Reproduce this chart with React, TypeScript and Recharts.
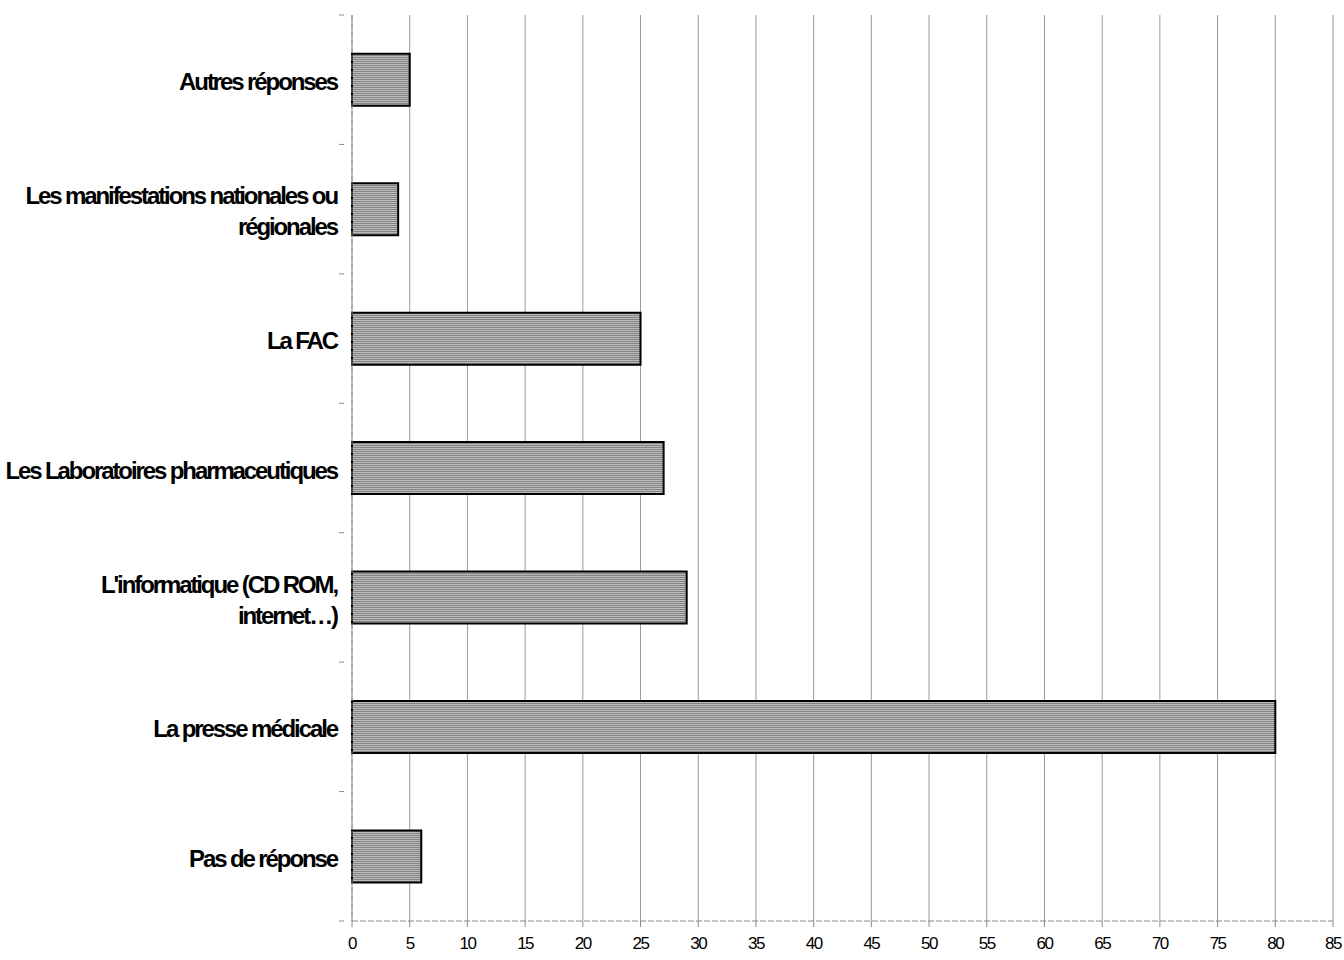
import { BarChart, Bar, XAxis, YAxis, CartesianGrid } from 'recharts';

// ── Data ──────────────────────────────────────────────────────────────────────
const CATEGORIES = [
  'Autres réponses',
  'Les manifestations nationales ou\nrégionales',
  'La FAC',
  'Les Laboratoires pharmaceutiques',
  "L'informatique (CD ROM,\ninternet…)",
  'La presse médicale',
  'Pas de réponse',
];
const VALUES = [5, 4, 25, 27, 29, 80, 6];
const X_TICKS = [0, 5, 10, 15, 20, 25, 30, 35, 40, 45, 50, 55, 60, 65, 70, 75, 80, 85];

const data = CATEGORIES.map((name, i) => ({ name, value: VALUES[i] }));

const LABEL_FONT = '"Liberation Sans", Arial, sans-serif';
const AXIS_GRAY = '#8a8a8a';

// ── Category label, right-aligned, wrapped on \n, with band-edge tick marks ──
function CategoryTick(props: any) {
  const { x, y, payload, index, visibleTicksCount } = props;
  const lines = String(payload.value).split('\n');
  const half = payload.offset ?? 0;
  const lh = 31;
  const start = -((lines.length - 1) * lh) / 2;
  const isLast = index === (visibleTicksCount ?? CATEGORIES.length) - 1;
  return (
    <g>
      <line x1={x - 5} x2={x} y1={y - half} y2={y - half} stroke={AXIS_GRAY} />
      {isLast && <line x1={x - 5} x2={x} y1={y + half} y2={y + half} stroke={AXIS_GRAY} />}
      <text
        x={x}
        y={y}
        textAnchor="end"
        fontFamily={LABEL_FONT}
        fontWeight={700}
        fontSize={24}
        letterSpacing={-2.1}
        fill="#000"
      >
        {lines.map((l, i) => (
          <tspan key={i} x={x - 7} y={y + start + i * lh + 2} dy="0.36em">
            {l}
          </tspan>
        ))}
      </text>
    </g>
  );
}

export default function App() {
  return (
    <div style={{ position: 'absolute', left: 0, top: 0, width: 1344, height: 960, background: '#fff' }}>
      <BarChart
        width={1344}
        height={960}
        data={data}
        layout="vertical"
        margin={{ top: 15, right: 11, bottom: 0, left: 0 }}
        barCategoryGap="30%"
      >
        <defs>
          <pattern id="hatch" width="4" height="2" patternUnits="userSpaceOnUse">
            <rect width="4" height="2" fill="#bcbcbc" />
            <rect y="1" width="4" height="1" fill="#848484" />
          </pattern>
        </defs>

        <CartesianGrid horizontal={false} stroke="#9a9a9a" strokeWidth={1} />

        <XAxis
          type="number"
          domain={[0, 85]}
          ticks={X_TICKS}
          interval={0}
          height={39}
          stroke={AXIS_GRAY}
          strokeDasharray="6 2"
          tickSize={6}
          tickLine={{ stroke: AXIS_GRAY }}
          tick={{ fontSize: 17, fill: '#000', fontFamily: LABEL_FONT, letterSpacing: -1.5 }}
          tickMargin={10}
        />

        <YAxis
          type="category"
          dataKey="name"
          width={352}
          interval={0}
          tickLine={false}
          stroke={AXIS_GRAY}
          strokeDasharray="6 2"
          tick={<CategoryTick />}
        />

        <Bar
          dataKey="value"
          fill="url(#hatch)"
          stroke="#000"
          strokeWidth={2}
          isAnimationActive={false}
        />
      </BarChart>
    </div>
  );
}
